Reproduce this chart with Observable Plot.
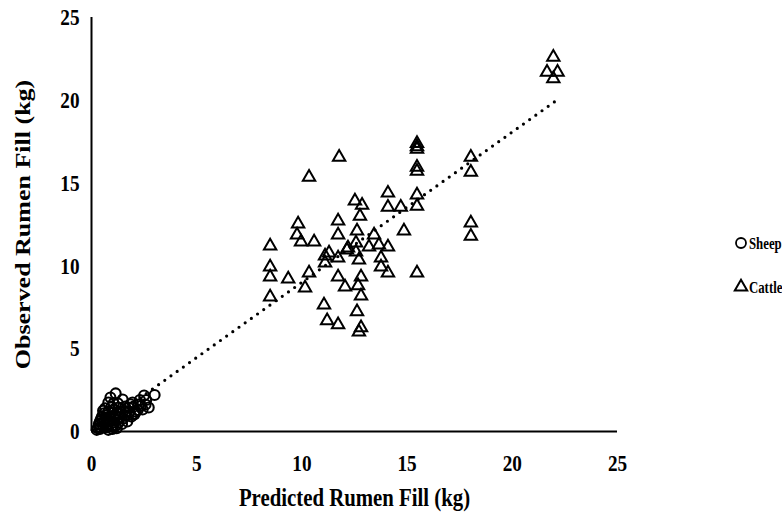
<!DOCTYPE html>
<html>
<head>
<meta charset="utf-8">
<script src="https://cdn.jsdelivr.net/npm/d3@7"></script>
<script src="https://cdn.jsdelivr.net/npm/@observablehq/plot@0.6"></script>
<style>
  html, body { margin: 0; padding: 0; background: #fff; }
  #wrap { position: relative; width: 782px; height: 517px; overflow: hidden; font-family: "Liberation Serif", "Times New Roman", serif; }
  #legend { position: absolute; left: 731px; top: 233px; }
</style>
</head>
<body>
<div id="wrap"><svg id="legend" width="51" height="70"></svg></div>
<script>
// Sheep (predicted, observed) in kg
const sheepX = [3.0, 2.5, 1.15, 0.9, 0.8, 1.48, 1.95, 2.24, 2.57, 2.72, 2.43, 2.1, 1.62, 1.29, 1.05, 0.67, 0.53, 0.43, 0.67, 1.0, 1.29, 1.52, 1.76, 1.29, 1.05, 1.76,
  0.4, 0.6, 0.8, 1.1, 0.9, 1.4, 1.6, 2.0, 0.5, 0.75, 1.2, 1.8, 2.3, 1.05, 0.55, 0.35,
  0.3, 0.45, 0.6, 0.7, 0.85, 0.95, 1.1, 1.2, 1.35, 1.45, 1.6, 1.7, 1.9, 2.05, 2.2, 1.85, 0.95, 0.65, 1.25, 2.6, 2.35,
  0.25, 0.4, 0.8, 1.0, 1.15, 0.55, 0.75];
const sheepY = [2.2, 2.17, 2.3, 2.05, 1.75, 1.93, 1.75, 1.63, 1.63, 1.45, 1.33, 1.2, 1.2, 1.08, 0.84, 0.84, 0.54, 0.24, 0.24, 0.36, 0.54, 0.78, 1.0, 1.45, 1.33, 1.45,
  0.6, 1.1, 1.2, 1.0, 0.6, 1.2, 1.5, 1.5, 0.9, 0.45, 0.7, 1.2, 1.9, 1.7, 0.3, 0.45,
  0.2, 0.75, 0.55, 1.0, 0.9, 0.3, 0.55, 0.2, 0.85, 0.45, 0.95, 0.6, 0.9, 1.05, 1.3, 1.65, 1.5, 1.4, 1.7, 1.9, 1.55,
  0.1, 0.15, 0.1, 0.15, 0.35, 1.25, 0.7];

// Cattle (predicted, observed) in kg
const cattleX = [11.77, 10.34, 15.47, 15.47, 15.47, 15.47, 15.47, 18.03, 18.03, 18.03, 18.03, 14.09, 14.09, 14.7, 15.47, 15.47,
  12.52, 12.86, 12.76, 11.72, 12.62, 11.72, 9.82, 9.77, 9.96, 10.58, 13.43, 14.85, 12.19, 12.57, 13.19, 13.66, 14.09,
  11.1, 11.29, 11.72, 12.57, 12.71, 13.76, 13.76, 14.09, 15.47, 11.1, 10.34, 10.15, 11.72, 12.81, 12.05, 12.67, 12.81,
  11.05, 12.62, 11.2, 11.72, 12.81, 12.71, 8.49, 8.49, 8.49, 8.49, 9.35, 12.14, 21.95, 21.65, 22.15, 21.95];
const cattleY = [16.57, 15.36, 17.4, 17.2, 17.05, 15.96, 15.72, 16.57, 15.66, 12.59, 11.8, 14.4, 13.55, 13.55, 14.28, 13.61,
  13.92, 13.67, 13.0, 12.71, 12.11, 11.87, 12.53, 11.87, 11.45, 11.45, 11.87, 12.11, 11.08, 11.39, 11.14, 11.27, 11.14,
  10.6, 10.78, 10.48, 10.84, 10.36, 10.48, 9.94, 9.58, 9.58, 10.18, 9.58, 8.67, 9.34, 9.34, 8.73, 8.8, 8.19,
  7.65, 7.23, 6.69, 6.45, 6.27, 6.02, 11.2, 9.94, 9.34, 8.13, 9.22, 10.96, 22.6, 21.7, 21.7, 21.3];

const xTicks = [0, 5, 10, 15, 20, 25];
const yTicks = [0, 5, 10, 15, 20, 25];
const xTitle = "Predicted Rumen Fill (kg)";
const yTitle = "Observed Rumen Fill (kg)";
const seriesNames = ["Sheep", "Cattle"];

const sheep = sheepX.map((x, i) => ({x, y: sheepY[i], s: "Sheep"}));
const cattle = cattleX.map((x, i) => ({x, y: cattleY[i], s: "Cattle"}));
const all = sheep.concat(cattle);

const font = "Liberation Serif, Times New Roman, serif";

const chart = Plot.plot({
  width: 782,
  height: 517,
  marginLeft: 91,
  marginRight: 165,
  marginTop: 17,
  marginBottom: 86,
  style: {fontFamily: font, fontWeight: "bold", fontSize: "24px", color: "#000", background: "#fff", overflow: "visible"},
  x: {domain: [0, 25], ticks: xTicks, tickSize: 0, tickPadding: 22, label: null},
  y: {domain: [0, 25], ticks: yTicks, tickSize: 0, tickPadding: 12, label: null},
  marks: [
    Plot.ruleX([0], {stroke: "#000", strokeWidth: 2}),
    Plot.ruleY([0], {stroke: "#000", strokeWidth: 2}),
    Plot.linearRegressionY(all, {x: "x", y: "y", ci: 0, stroke: "#000", strokeWidth: 3.2, strokeDasharray: "0 7.6", strokeLinecap: "round"}),
    Plot.dot(sheep, {x: "x", y: "y", r: 5, symbol: "circle", stroke: "#000", strokeWidth: 2.1, fill: "none"}),
    Plot.dot(cattle, {x: "x", y: "y", r: 4.6, symbol: "triangle", stroke: "#000", strokeWidth: 2, fill: "none"}),
    Plot.text([yTitle], {frameAnchor: "left", textAnchor: "middle", lineAnchor: "middle", rotate: -90, dx: -68, fontSize: 26, fontWeight: "bold"}),
    Plot.text([xTitle], {frameAnchor: "bottom", textAnchor: "middle", lineAnchor: "middle", dy: 66, fontSize: 26, fontWeight: "bold"})
  ]
});
document.getElementById("wrap").prepend(chart);

// horizontally condensed lettering, as in the reference
const SQ = 0.8;
function squeeze(t) {
  const tr = t.getAttribute("transform");
  if (tr && /^translate\([^)]*\)/.test(tr)) {
    t.setAttribute("transform", tr.replace(/^(translate\([^)]*\))/, `$1 scale(${SQ},1)`));
  } else {
    const x = +(t.getAttribute("x") || 0), y = +(t.getAttribute("y") || 0);
    t.setAttribute("transform", `translate(${x},${y}) scale(${SQ},1) translate(${-x},${-y})` + (tr ? " " + tr : ""));
  }
}
chart.querySelectorAll("text").forEach(squeeze);

// legend (vertical, right of the plot)
const legend = d3.select("#legend");
const sym = {Sheep: d3.symbol(d3.symbolCircle, Math.PI * 5 * 5)(), Cattle: d3.symbol(d3.symbolTriangle, Math.PI * 4.6 * 4.6)()};
seriesNames.forEach((name, i) => {
  const g = legend.append("g").attr("transform", `translate(10,${10 + i * 44})`);
  g.append("path").attr("d", sym[name]).attr("fill", "none").attr("stroke", "#000")
    .attr("stroke-width", name === "Sheep" ? 1.8 : 2);
  const t = g.append("text").attr("transform", "translate(8,0)").attr("dy", "0.35em")
    .attr("font-family", font).attr("font-weight", "bold").attr("font-size", 16).text(name);
  squeeze(t.node());
});
</script>
</body>
</html>
